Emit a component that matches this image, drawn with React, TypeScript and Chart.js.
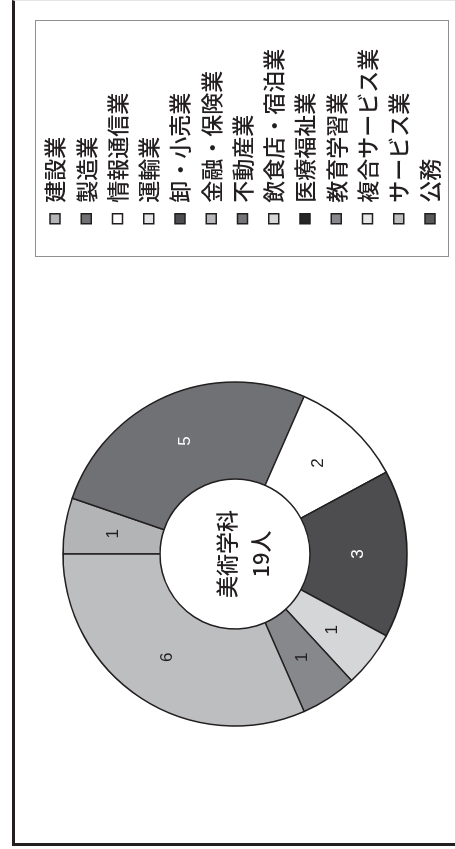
import React, { useEffect, useRef } from 'react';
import { Chart, registerables } from 'chart.js';

Chart.register(...registerables);

// ---- data ----
const categories = [
  '建設業',
  '製造業',
  '情報通信業',
  '運輸業',
  '卸・小売業',
  '金融・保険業',
  '不動産業',
  '飲食店・宿泊業',
  '医療福祉業',
  '教育学習業',
  '複合サービス業',
  'サービス業',
  '公務',
];
const counts = [1, 5, 2, 0, 3, 0, 0, 1, 0, 1, 0, 6, 0];
const sliceColors = [
  '#b3b4b6',
  '#707174',
  '#ffffff',
  '#e4e5e6',
  '#4d4d4f',
  '#b7b8ba',
  '#747578',
  '#d5d6d8',
  '#262626',
  '#87888b',
  '#e6e7e8',
  '#bdbec0',
  '#58595b',
];
const departmentName = '美術学科';
const unitLabel = '人';

const JP_FONT = "'Noto Sans CJK JP', 'Noto Sans', sans-serif";
const INK = '#231f20';

function isDark(hex: string) {
  const h = hex.replace('#', '');
  const r = parseInt(h.slice(0, 2), 16);
  const g = parseInt(h.slice(2, 4), 16);
  const b = parseInt(h.slice(4, 6), 16);
  return (0.299 * r + 0.587 * g + 0.114 * b) / 255 < 0.5;
}

const legendFrame = {
  id: 'legendFrame',
  afterDraw(chart: any) {
    const lg = chart.legend;
    if (!lg) return;
    const ctx = chart.ctx;
    ctx.save();
    ctx.strokeStyle = '#8f8f8f';
    ctx.lineWidth = 1;
    const left = Math.round(lg.left - 24) + 0.5;
    const right = Math.round(lg.right + 18) + 0.5;
    ctx.strokeRect(left, 35.5, right - left, 413);
    ctx.restore();
  },
};

const valueLabels = {
  id: 'valueLabels',
  afterDatasetsDraw(chart: any) {
    const ctx = chart.ctx;
    const meta = chart.getDatasetMeta(0);
    const ds = chart.data.datasets[0];
    ctx.save();
    ctx.font = "17px 'Liberation Sans', Arial, sans-serif";
    ctx.textAlign = 'center';
    ctx.textBaseline = 'middle';
    meta.data.forEach((arc: any, i: number) => {
      const v = ds.data[i];
      if (!v) return;
      const p = arc.tooltipPosition();
      ctx.fillStyle = isDark(ds.backgroundColor[i]) ? '#ffffff' : INK;
      ctx.fillText(String(v), p.x, p.y);
    });
    ctx.restore();
  },
};

const centerText = {
  id: 'centerText',
  afterDraw(chart: any) {
    const meta = chart.getDatasetMeta(0);
    const arc = meta.data[0];
    if (!arc) return;
    const { x, y } = arc.getProps(['x', 'y'], true);
    const total = counts.reduce((a, b) => a + b, 0);
    const ctx = chart.ctx;
    ctx.save();
    ctx.fillStyle = INK;
    ctx.textAlign = 'center';
    ctx.textBaseline = 'middle';
    ctx.font = `500 22px ${JP_FONT}`;
    ctx.fillText(departmentName, x, y - 8);
    ctx.fillText(`${total}${unitLabel}`, x, y + 26);
    ctx.restore();
  },
};

export default function App() {
  const canvasRef = useRef<HTMLCanvasElement | null>(null);

  useEffect(() => {
    if (!canvasRef.current) return;
    const chart = new Chart(canvasRef.current, {
      type: 'doughnut',
      data: {
        labels: categories,
        datasets: [
          {
            data: counts,
            backgroundColor: sliceColors,
            borderColor: INK,
            borderWidth: 1.5,
          },
        ],
      },
      options: {
        responsive: false,
        animation: false,
        radius: 172,
        cutout: '43.6%',
        layout: { padding: { left: 0, right: 38.75, top: 15, bottom: 0 } },
        plugins: {
          tooltip: { enabled: false },
          legend: {
            position: 'right',
            align: 'center',
            title: {
              display: true,
              text: '',
              padding: 0,
              font: { size: 10, lineHeight: 1.5 },
            },
            labels: {
              boxWidth: 10,
              boxHeight: 10,
              padding: 9.25,
              color: INK,
              font: { size: 22, weight: '500', family: JP_FONT },
            },
          },
        },
      } as any,
      plugins: [legendFrame, valueLabels, centerText],
    });
    return () => chart.destroy();
  }, []);

  return (
    <div
      style={{
        position: 'absolute',
        left: 0,
        top: 0,
        width: 455,
        height: 849,
        overflow: 'hidden',
        background: '#ffffff',
      }}
    >
      <div
        style={{
          position: 'absolute',
          left: 0,
          top: 0,
          width: 849,
          height: 455,
          transformOrigin: '0 0',
          transform: 'translateY(849px) rotate(-90deg)',
        }}
      >
        <div
          style={{
            position: 'absolute',
            left: 3,
            top: 12,
            width: 846,
            height: 460,
            boxSizing: 'border-box',
            borderTop: `3px solid ${INK}`,
            borderLeft: `3px solid ${INK}`,
            borderRight: '1px solid #e4e4e4',
          }}
        />
        <canvas
          ref={canvasRef}
          width={875}
          height={455}
          style={{
            position: 'absolute',
            left: -26,
            top: 0,
            width: 875,
            height: 455,
          }}
        />
      </div>
    </div>
  );
}
